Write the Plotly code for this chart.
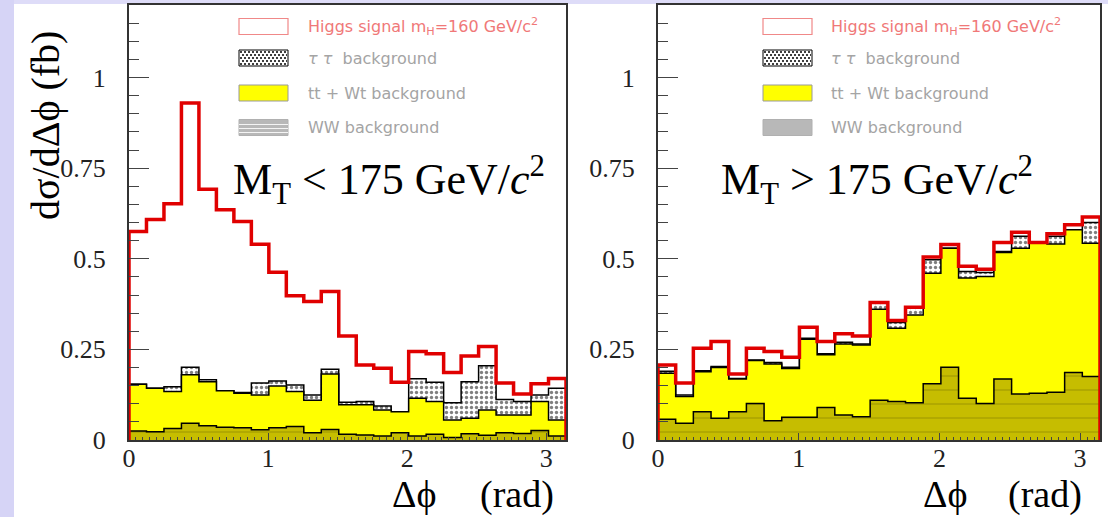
import numpy as np
import plotly.graph_objects as go

W, H = 1108, 517
NBINS = 25
edges = np.linspace(0, np.pi, NBINS + 1)

# ---- data: stacked levels (cumulative tops) per bin ----
left_ww = [0.025, 0.023, 0.032, 0.046, 0.039, 0.035, 0.034, 0.028, 0.034, 0.037, 0.020, 0.029, 0.016,
           0.014, 0.011, 0.020, 0.011, 0.016, 0.007, 0.017, 0.013, 0.020, 0.018, 0.026, 0.011]
left_ttwt = [0.154, 0.143, 0.134, 0.180, 0.161, 0.136, 0.129, 0.124, 0.149, 0.134, 0.110, 0.182, 0.097,
             0.097, 0.083, 0.078, 0.115, 0.106, 0.055, 0.060, 0.083, 0.069, 0.069, 0.106, 0.055]
left_tautau = [0.154, 0.143, 0.147, 0.201, 0.166, 0.136, 0.131, 0.157, 0.163, 0.152, 0.124, 0.195, 0.104,
               0.106, 0.094, 0.078, 0.169, 0.159, 0.103, 0.161, 0.205, 0.112, 0.106, 0.124, 0.143]
left_total = [0.575, 0.608, 0.652, 0.930, 0.692, 0.635, 0.603, 0.540, 0.463, 0.398, 0.382, 0.410, 0.287,
              0.207, 0.198, 0.159, 0.244, 0.238, 0.186, 0.232, 0.258, 0.157, 0.127, 0.155, 0.170]

right_ww = [0.057, 0.046, 0.078, 0.060, 0.078, 0.101, 0.053, 0.063, 0.063, 0.090, 0.069, 0.064, 0.110,
            0.106, 0.103, 0.155, 0.201, 0.115, 0.101, 0.168, 0.127, 0.129, 0.132, 0.186, 0.175]
right_ttwt = [0.184, 0.120, 0.188, 0.200, 0.168, 0.219, 0.210, 0.197, 0.278, 0.235, 0.265, 0.262, 0.361,
              0.308, 0.345, 0.460, 0.529, 0.447, 0.451, 0.517, 0.529, 0.543, 0.541, 0.580, 0.543]
right_tautau = [0.190, 0.124, 0.191, 0.203, 0.170, 0.221, 0.214, 0.201, 0.281, 0.238, 0.270, 0.265, 0.378,
                0.324, 0.364, 0.497, 0.529, 0.465, 0.462, 0.520, 0.562, 0.546, 0.562, 0.580, 0.600]
right_total = [0.207, 0.157, 0.253, 0.272, 0.182, 0.253, 0.244, 0.228, 0.311, 0.272, 0.293, 0.287, 0.379,
               0.330, 0.366, 0.505, 0.539, 0.479, 0.471, 0.545, 0.573, 0.545, 0.569, 0.594, 0.615]

y_tickvals = [0, 0.25, 0.5, 0.75, 1]
y_ticktext = ["0", "0.25", "0.5", "0.75", "1"]
x_tickvals = [0, 1, 2, 3]
x_ticktext = ["0", "1", "2", "3"]

legend_labels = ["Higgs signal m<sub>H</sub>=160 GeV/c<sup>2</sup>", "<i>\u03c4 \u03c4</i>  background",
                 "tt + Wt background", "WW background"]
panel_labels = ["M<sub>T</sub> &lt; 175 GeV/<i>c</i><sup>2</sup>", "M<sub>T</sub> &gt; 175 GeV/<i>c</i><sup>2</sup>"]
y_title = "d\u03c3/d\u0394\u03d5 (fb)"
x_title_var = "\u0394\u03d5"
x_title_unit = "(rad)"

RED = "#e00000"
YELLOW = "#ffff00"
OLIVE = "#c6bd00"
SERIF = "Liberation Serif"


def step(vals):
    x = np.concatenate([[edges[0]], edges, [edges[-1]]])
    y = np.concatenate([[0.0], vals, [vals[-1]], [0.0]])
    return x, y


fig = go.Figure()

panels = [
    ("x", "y", left_ww, left_ttwt, left_tautau, left_total),
    ("x2", "y2", right_ww, right_ttwt, right_tautau, right_total),
]
for xa, ya, ww, tt, tau, tot in panels:
    x, y = step(tau)
    fig.add_trace(go.Scatter(x=x, y=y, xaxis=xa, yaxis=ya, mode="lines", line_shape="hv",
                             line=dict(color="black", width=1.5), fill="tozeroy",
                             fillpattern=dict(shape=".", fgcolor="black", bgcolor="white", size=5, solidity=0.35),
                             hoverinfo="skip", showlegend=False))
    x, y = step(tt)
    fig.add_trace(go.Scatter(x=x, y=y, xaxis=xa, yaxis=ya, mode="lines", line_shape="hv",
                             line=dict(color="black", width=1.5), fill="tozeroy", fillcolor=YELLOW,
                             hoverinfo="skip", showlegend=False))
    x, y = step(ww)
    fig.add_trace(go.Scatter(x=x, y=y, xaxis=xa, yaxis=ya, mode="lines", line_shape="hv",
                             line=dict(color="black", width=1.5), fill="tozeroy",
                             fillpattern=dict(shape="-", fgcolor="#7a7400", bgcolor=OLIVE, size=14, solidity=0.08),
                             hoverinfo="skip", showlegend=False))
    x, y = step(tot)
    fig.add_trace(go.Scatter(x=x, y=y, xaxis=xa, yaxis=ya, mode="lines", line_shape="hv",
                             line=dict(color=RED, width=3.5), hoverinfo="skip", showlegend=False))


def px_x(p):
    return p / W


def px_y(p):
    return 1 - p / H


# axis domains (pixels)
LX = (129, 566)
RX = (658, 1100)
YTOP, YBOT = 5, 440

axis_common_y = dict(range=[0, 1.2], tickvals=y_tickvals, ticktext=y_ticktext, ticks="inside", ticklen=20,
                     tickwidth=1, tickcolor="#444", showline=True, linecolor="#333", linewidth=2, mirror=True,
                     showgrid=False, zeroline=False, tickfont=dict(family=SERIF, size=26, color="#222"),
                     minor=dict(ticks="inside", ticklen=10, dtick=0.05, tickcolor="#444", showgrid=False),
                     ticklabelstandoff=16, automargin=False, domain=[px_y(YBOT), px_y(YTOP)])
axis_common_x = dict(range=[0, np.pi], tickvals=x_tickvals, ticktext=x_ticktext, ticks="inside", ticklen=7,
                     tickwidth=1, tickcolor="#444", showline=True, linecolor="#333", linewidth=2, mirror=True,
                     showgrid=False, zeroline=False, tickfont=dict(family=SERIF, size=26, color="#222"),
                     minor=dict(ticks="inside", ticklen=3, dtick=0.05, tickcolor="#444", showgrid=False),
                     ticklabelstandoff=-6, automargin=False)

fig.update_layout(
    width=W, height=H, margin=dict(l=0, r=0, t=0, b=0),
    paper_bgcolor="white", plot_bgcolor="white", showlegend=False,
    xaxis=dict(axis_common_x, domain=[px_x(LX[0]), px_x(LX[1])], anchor="y"),
    yaxis=dict(axis_common_y, anchor="x"),
    xaxis2=dict(axis_common_x, domain=[px_x(RX[0]), px_x(RX[1])], anchor="y2"),
    yaxis2=dict(axis_common_y, anchor="x2"),
)

shapes = []
annotations = []
# slide background strips
shapes.append(dict(type="rect", xref="paper", yref="paper", x0=0, x1=1, y0=px_y(4), y1=1,
                   fillcolor="#dedcf8", line_width=0, layer="below"))
shapes.append(dict(type="rect", xref="paper", yref="paper", x0=0, x1=px_x(14), y0=0, y1=1,
                   fillcolor="#d6d4f6", line_width=0, layer="below"))

# legends (manual)
rows = [26.5, 58, 93, 127.5]
for (sx0, sx1, tx, ww_solid) in [(239, 288, 306, False), (763, 812, 829, True)]:
    # Higgs: red outline box
    shapes.append(dict(type="rect", xref="paper", yref="paper", x0=px_x(sx0), x1=px_x(sx1),
                       y0=px_y(rows[0] + 8), y1=px_y(rows[0] - 8), fillcolor="white",
                       line=dict(color="#f08888", width=1.2)))
    # tau tau: dotted box
    shapes.append(dict(type="rect", xref="paper", yref="paper", x0=px_x(sx0), x1=px_x(sx1),
                       y0=px_y(rows[1] + 8), y1=px_y(rows[1] - 8), fillcolor="white",
                       line=dict(color="black", width=1)))
    for k in range(5):
        yy = rows[1] - 6 + 3 * k
        shapes.append(dict(type="line", xref="paper", yref="paper", x0=px_x(sx0 + 1 + (k % 2) * 2),
                           x1=px_x(sx1 - 1), y0=px_y(yy), y1=px_y(yy),
                           line=dict(color="black", width=1.6, dash="2px,2px")))
    # tt + Wt: yellow box
    shapes.append(dict(type="rect", xref="paper", yref="paper", x0=px_x(sx0), x1=px_x(sx1),
                       y0=px_y(rows[2] + 8), y1=px_y(rows[2] - 8), fillcolor=YELLOW,
                       line=dict(color="#999999", width=1)))
    # WW: gray box
    shapes.append(dict(type="rect", xref="paper", yref="paper", x0=px_x(sx0), x1=px_x(sx1),
                       y0=px_y(rows[3] + 8), y1=px_y(rows[3] - 8), fillcolor="#b8b8b8",
                       line=dict(color="#b0b0b0", width=1)))
    if not ww_solid:
        for yy in (rows[3] - 3, rows[3] + 1, rows[3] + 5):
            shapes.append(dict(type="line", xref="paper", yref="paper", x0=px_x(sx0), x1=px_x(sx1),
                               y0=px_y(yy), y1=px_y(yy), line=dict(color="#f4f4f4", width=1)))
    for i, lab in enumerate(legend_labels):
        annotations.append(dict(xref="paper", yref="paper", x=px_x(tx), y=px_y(rows[i]), text=lab,
                                showarrow=False, xanchor="left", yanchor="middle",
                                font=dict(family="DejaVu Sans", size=16,
                                          color="#f07878" if i == 0 else "#a4a4a4")))

# panel labels
for cx, lab in [(389, panel_labels[0]), (877, panel_labels[1])]:
    annotations.append(dict(xref="paper", yref="paper", x=px_x(cx), y=px_y(180), text=lab, showarrow=False,
                            xanchor="center", yanchor="middle", font=dict(family=SERIF, size=44, color="black")))

# axis titles
annotations.append(dict(xref="paper", yref="paper", x=px_x(45), y=px_y(126), text=y_title,
                        textangle=-90, showarrow=False, xanchor="center", yanchor="middle",
                        font=dict(family=SERIF, size=40, color="black")))
for cv, cu in ((414, 517), (945, 1045)):
    annotations.append(dict(xref="paper", yref="paper", x=px_x(cv), y=px_y(494), text=x_title_var,
                            showarrow=False, xanchor="center", yanchor="middle",
                            font=dict(family=SERIF, size=38, color="black")))
    annotations.append(dict(xref="paper", yref="paper", x=px_x(cu), y=px_y(494), text=x_title_unit,
                            showarrow=False, xanchor="center", yanchor="middle",
                            font=dict(family=SERIF, size=38, color="black")))

fig.update_layout(shapes=shapes, annotations=annotations)
fig.write_html("out.html")
